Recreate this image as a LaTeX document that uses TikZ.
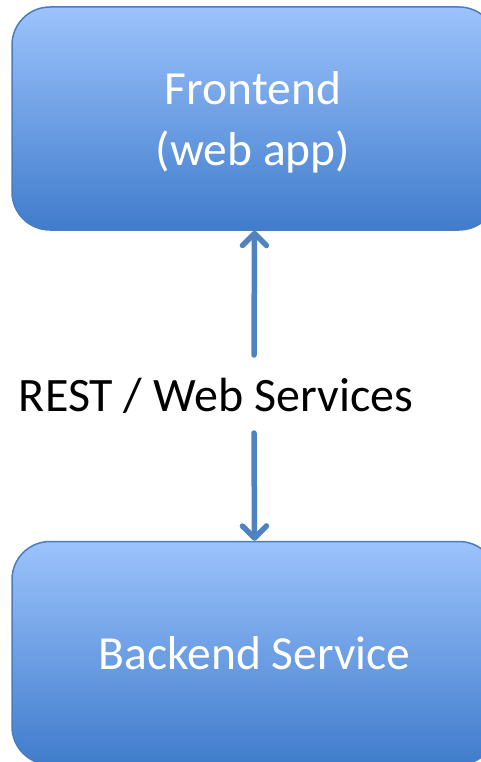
\documentclass[tikz,border=0pt]{standalone}
\usepackage{fontspec}
\setmainfont{Carlito}
\usetikzlibrary{arrows.meta}
\definecolor{boxtop}{RGB}{156,195,252}
\definecolor{boxbot}{RGB}{64,124,204}
\definecolor{boxedge}{RGB}{74,124,190}
\definecolor{arrowc}{RGB}{80,130,192}
\tikzset{
  blockbox/.style={draw=boxedge, line width=1.5pt, rounded corners=38pt,
    top color=boxtop, bottom color=boxbot, minimum width=485pt, minimum height=223pt,
    inner sep=0pt, text=white, font=\fontsize{47.5}{61}\selectfont, align=center},
  conn/.style={draw=arrowc, line width=5.5pt, line cap=round,
    -{Straight Barb[length=12pt,width=24pt,line width=5.5pt,round]}},
  lbl/.style={font=\fontsize{48}{56}\selectfont, text=black, inner sep=0pt}
}
\begin{document}
\begin{tikzpicture}[x=1pt,y=-1pt]
\useasboundingbox (0,0) rectangle (481,762);
\node[blockbox] (front) at (254.5,118.5) {};
\node[text=white, font=\fontsize{47.5}{61}\selectfont, align=center] (fronttext) at (253,122) {Frontend\\(web app)};
\node[blockbox] (back) at (254.5,653) {Backend Service};
\node[lbl] (rest) at (216,396) {REST / Web Services};
\coordinate (a1) at (254,355);
\coordinate (a2) at (254,433);
\draw[conn] (a1) -- (front.south);
\draw[conn] (a2) -- (back.north);
\end{tikzpicture}
\end{document}
